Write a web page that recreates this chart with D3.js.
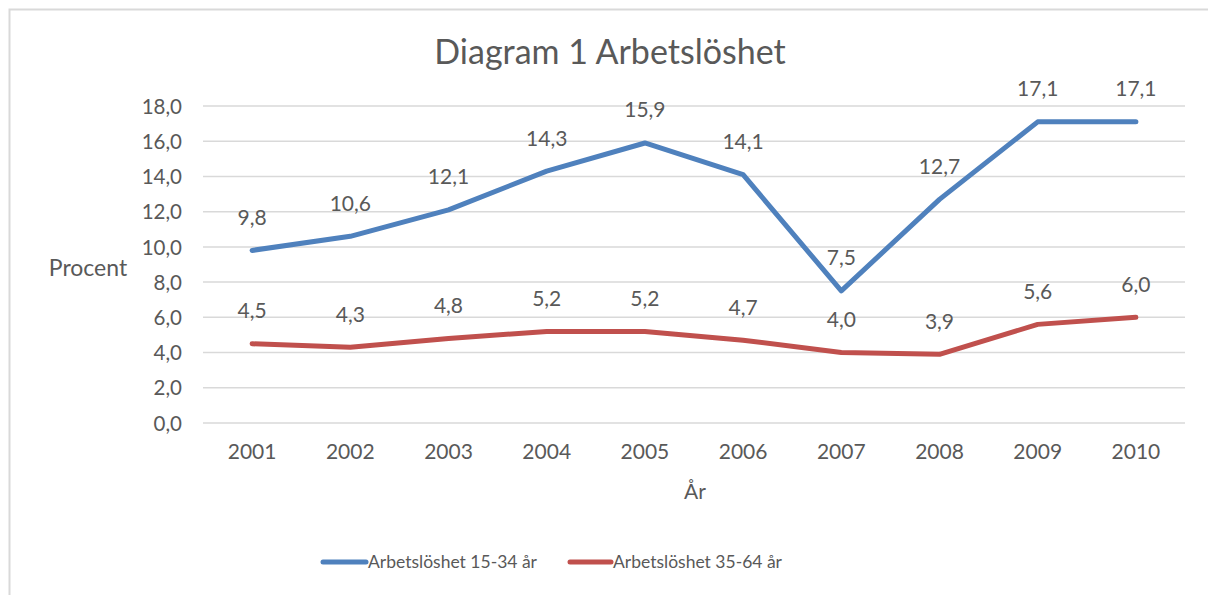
<!DOCTYPE html>
<html><head><meta charset="utf-8">
<script src="https://cdn.jsdelivr.net/npm/d3@7"></script>
<style>body{margin:0;background:#fff}svg{display:block}text{font-family:Lato,"Open Sans",sans-serif;fill:#595959}</style>
</head><body><svg id="c" width="1208" height="595"></svg>
<script>
const years = ["2001","2002","2003","2004","2005","2006","2007","2008","2009","2010"];
const young = [9.8,10.6,12.1,14.3,15.9,14.1,7.5,12.7,17.1,17.1];
const older = [4.5,4.3,4.8,5.2,5.2,4.7,4.0,3.9,5.6,6.0];
const yTicks = [0,2,4,6,8,10,12,14,16,18];
const seriesNames = ["Arbetslöshet 15-34 år","Arbetslöshet 35-64 år"];
const colors = ["#4F81BD","#C0504D"];

const svg = d3.select("#c");
const fmt = v => d3.format(".1f")(v).replace(".", ",");
svg.append("rect").attr("x",9.5).attr("y",9.5).attr("width",1300).attr("height",700)
  .attr("fill","none").attr("stroke","#d9d9d9").attr("stroke-width",2);

const x = d3.scaleBand().domain(years).range([203,1185]);
const y = d3.scaleLinear().domain([0,18]).range([423,106]);

svg.append("g").selectAll("line").data(yTicks).join("line")
  .attr("x1",203).attr("x2",1185).attr("y1",d=>y(d)).attr("y2",d=>y(d))
  .attr("stroke","#d9d9d9").attr("stroke-width",1.5);

const ya = svg.append("g").attr("transform","translate(182,0)")
  .call(d3.axisLeft(y).tickValues(yTicks).tickSize(0).tickPadding(0).tickFormat(fmt));
ya.select(".domain").remove();
ya.selectAll("text").style("font-size","20.5px").attr("dy","0.35em").style("fill","#595959");

const xa = svg.append("g").attr("transform","translate(0,452)")
  .call(d3.axisBottom(x).tickSize(0).tickPadding(0));
xa.select(".domain").remove();
xa.selectAll("text").style("font-size","21px").attr("dy","0.35em").style("fill","#595959");

svg.append("text").attr("x",610).attr("y",52).attr("text-anchor","middle").attr("dy","0.35em")
  .style("font-size","34px").text("Diagram 1 Arbetslöshet");
svg.append("text").attr("x",88).attr("y",268).attr("text-anchor","middle").attr("dy","0.35em")
  .style("font-size","23px").text("Procent");
svg.append("text").attr("x",695).attr("y",492).attr("text-anchor","middle").attr("dy","0.35em")
  .style("font-size","21px").text("År");

const line = d3.line().x((d,i)=>x(years[i])+x.bandwidth()/2).y(d=>y(d));
[young,older].forEach((s,k)=>{
  svg.append("path").datum(s).attr("d",line).attr("fill","none")
    .attr("stroke",colors[k]).attr("stroke-width",5).attr("stroke-linejoin","round").attr("stroke-linecap","round");
  svg.append("g").selectAll("text").data(s).join("text")
    .attr("x",(d,i)=>x(years[i])+x.bandwidth()/2).attr("y",d=>y(d)-33)
    .attr("text-anchor","middle").attr("dy","0.35em").style("font-size","21px").text(fmt);
});

const leg = [{x1:323,x2:366},{x1:570,x2:611}];
leg.forEach((l,k)=>{
  svg.append("line").attr("x1",l.x1).attr("x2",l.x2).attr("y1",562).attr("y2",562)
    .attr("stroke",colors[k]).attr("stroke-width",5).attr("stroke-linecap","round");
  svg.append("text").attr("x",l.x2+2).attr("y",562).attr("dy","0.35em")
    .style("font-size","17.5px").text(seriesNames[k]);
});
</script></body></html>
